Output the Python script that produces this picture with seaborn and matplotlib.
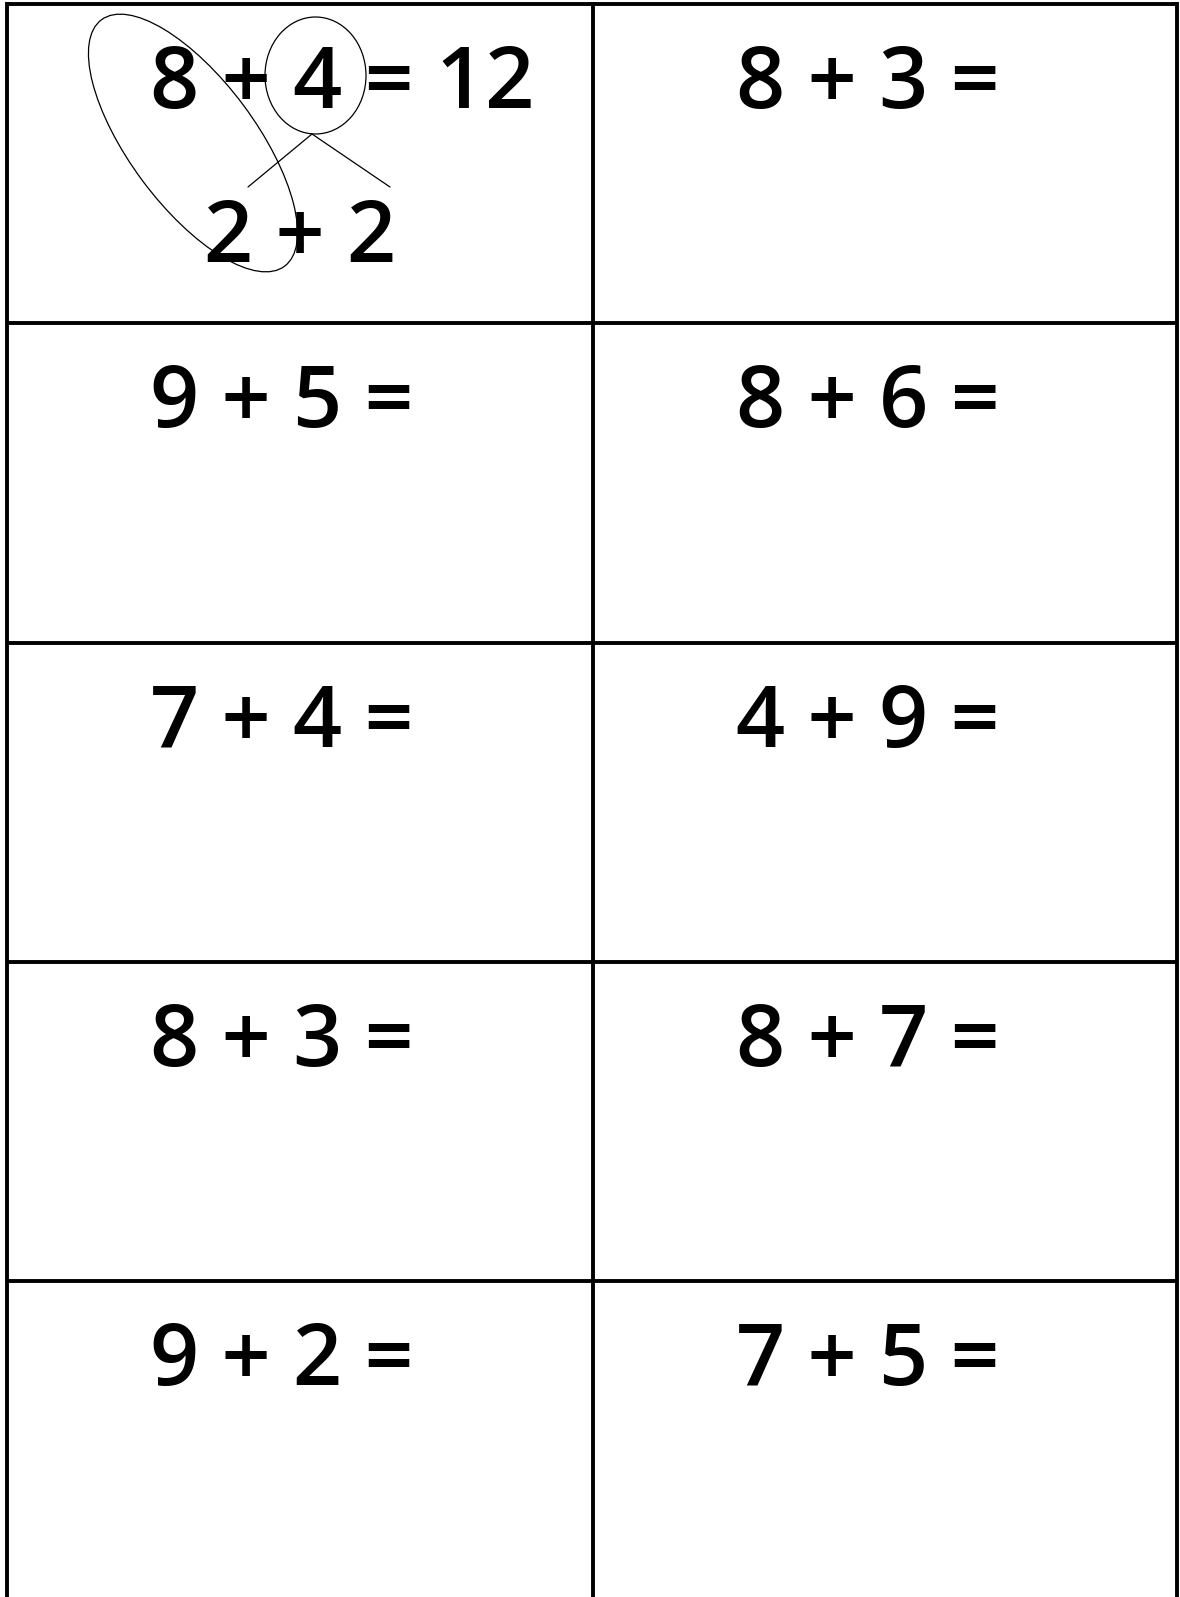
import matplotlib.pyplot as plt
import seaborn as sns
from matplotlib.patches import Ellipse

# worksheet contents: left column then right column, row by row
left_problems = ["8 + 4 = 12", "9 + 5 =", "7 + 4 =", "8 + 3 =", "9 + 2 ="]
right_problems = ["8 + 3 =", "8 + 6 =", "4 + 9 =", "8 + 7 =", "7 + 5 ="]
worked_split = "2 + 2"   # the 4 split into 2 + 2 in the worked example

n_rows = len(left_problems)

sns.set_theme(style="white")
plt.rcParams['font.family'] = ['Open Sans', 'DejaVu Sans']

W, H = 1180, 1597
fig = plt.figure(figsize=(W / 100, H / 100), dpi=100)
ax = fig.add_axes([0, 0, 1, 1])
ax.set_xlim(0, W)
ax.set_ylim(H, 0)
ax.axis("off")

# grid geometry in pixels
x_left, x_mid, x_right = 6.5, 593, 1177
y_top, row_h = 4, 319.25
lw = 2.8

for i in range(n_rows):
    ax.hlines(y_top + i * row_h, x_left - 1, x_right + 1, color="black", lw=lw)
for x in [x_left, x_mid, x_right]:
    ax.vlines(x, y_top - 2, H, color="black", lw=lw)

# equations
fs = 62
for col, problems in enumerate([left_problems, right_problems]):
    cell_left = [x_left, x_mid][col]
    for row, txt in enumerate(problems):
        base = y_top + row * row_h + 104
        ax.text(cell_left + 143, base, txt, fontsize=fs, fontweight="semibold",
                ha="left", va="baseline", color="black")

# worked example annotations in the first cell
ax.text(x_left + 197, y_top + 258, worked_split, fontsize=fs,
        fontweight="semibold", ha="left", va="baseline", color="black")
ax.add_patch(Ellipse((315.5, 75.5), 101, 117, fill=False, ec="black", lw=0.9))
ax.add_patch(Ellipse((193, 143), 126, 307, angle=-36.6, fill=False,
                     ec="black", lw=0.9))
ax.plot([312, 248], [134, 187], color="black", lw=0.9)
ax.plot([312, 390], [134, 187], color="black", lw=0.9)

fig.savefig("out.png", dpi=100, facecolor="white")
